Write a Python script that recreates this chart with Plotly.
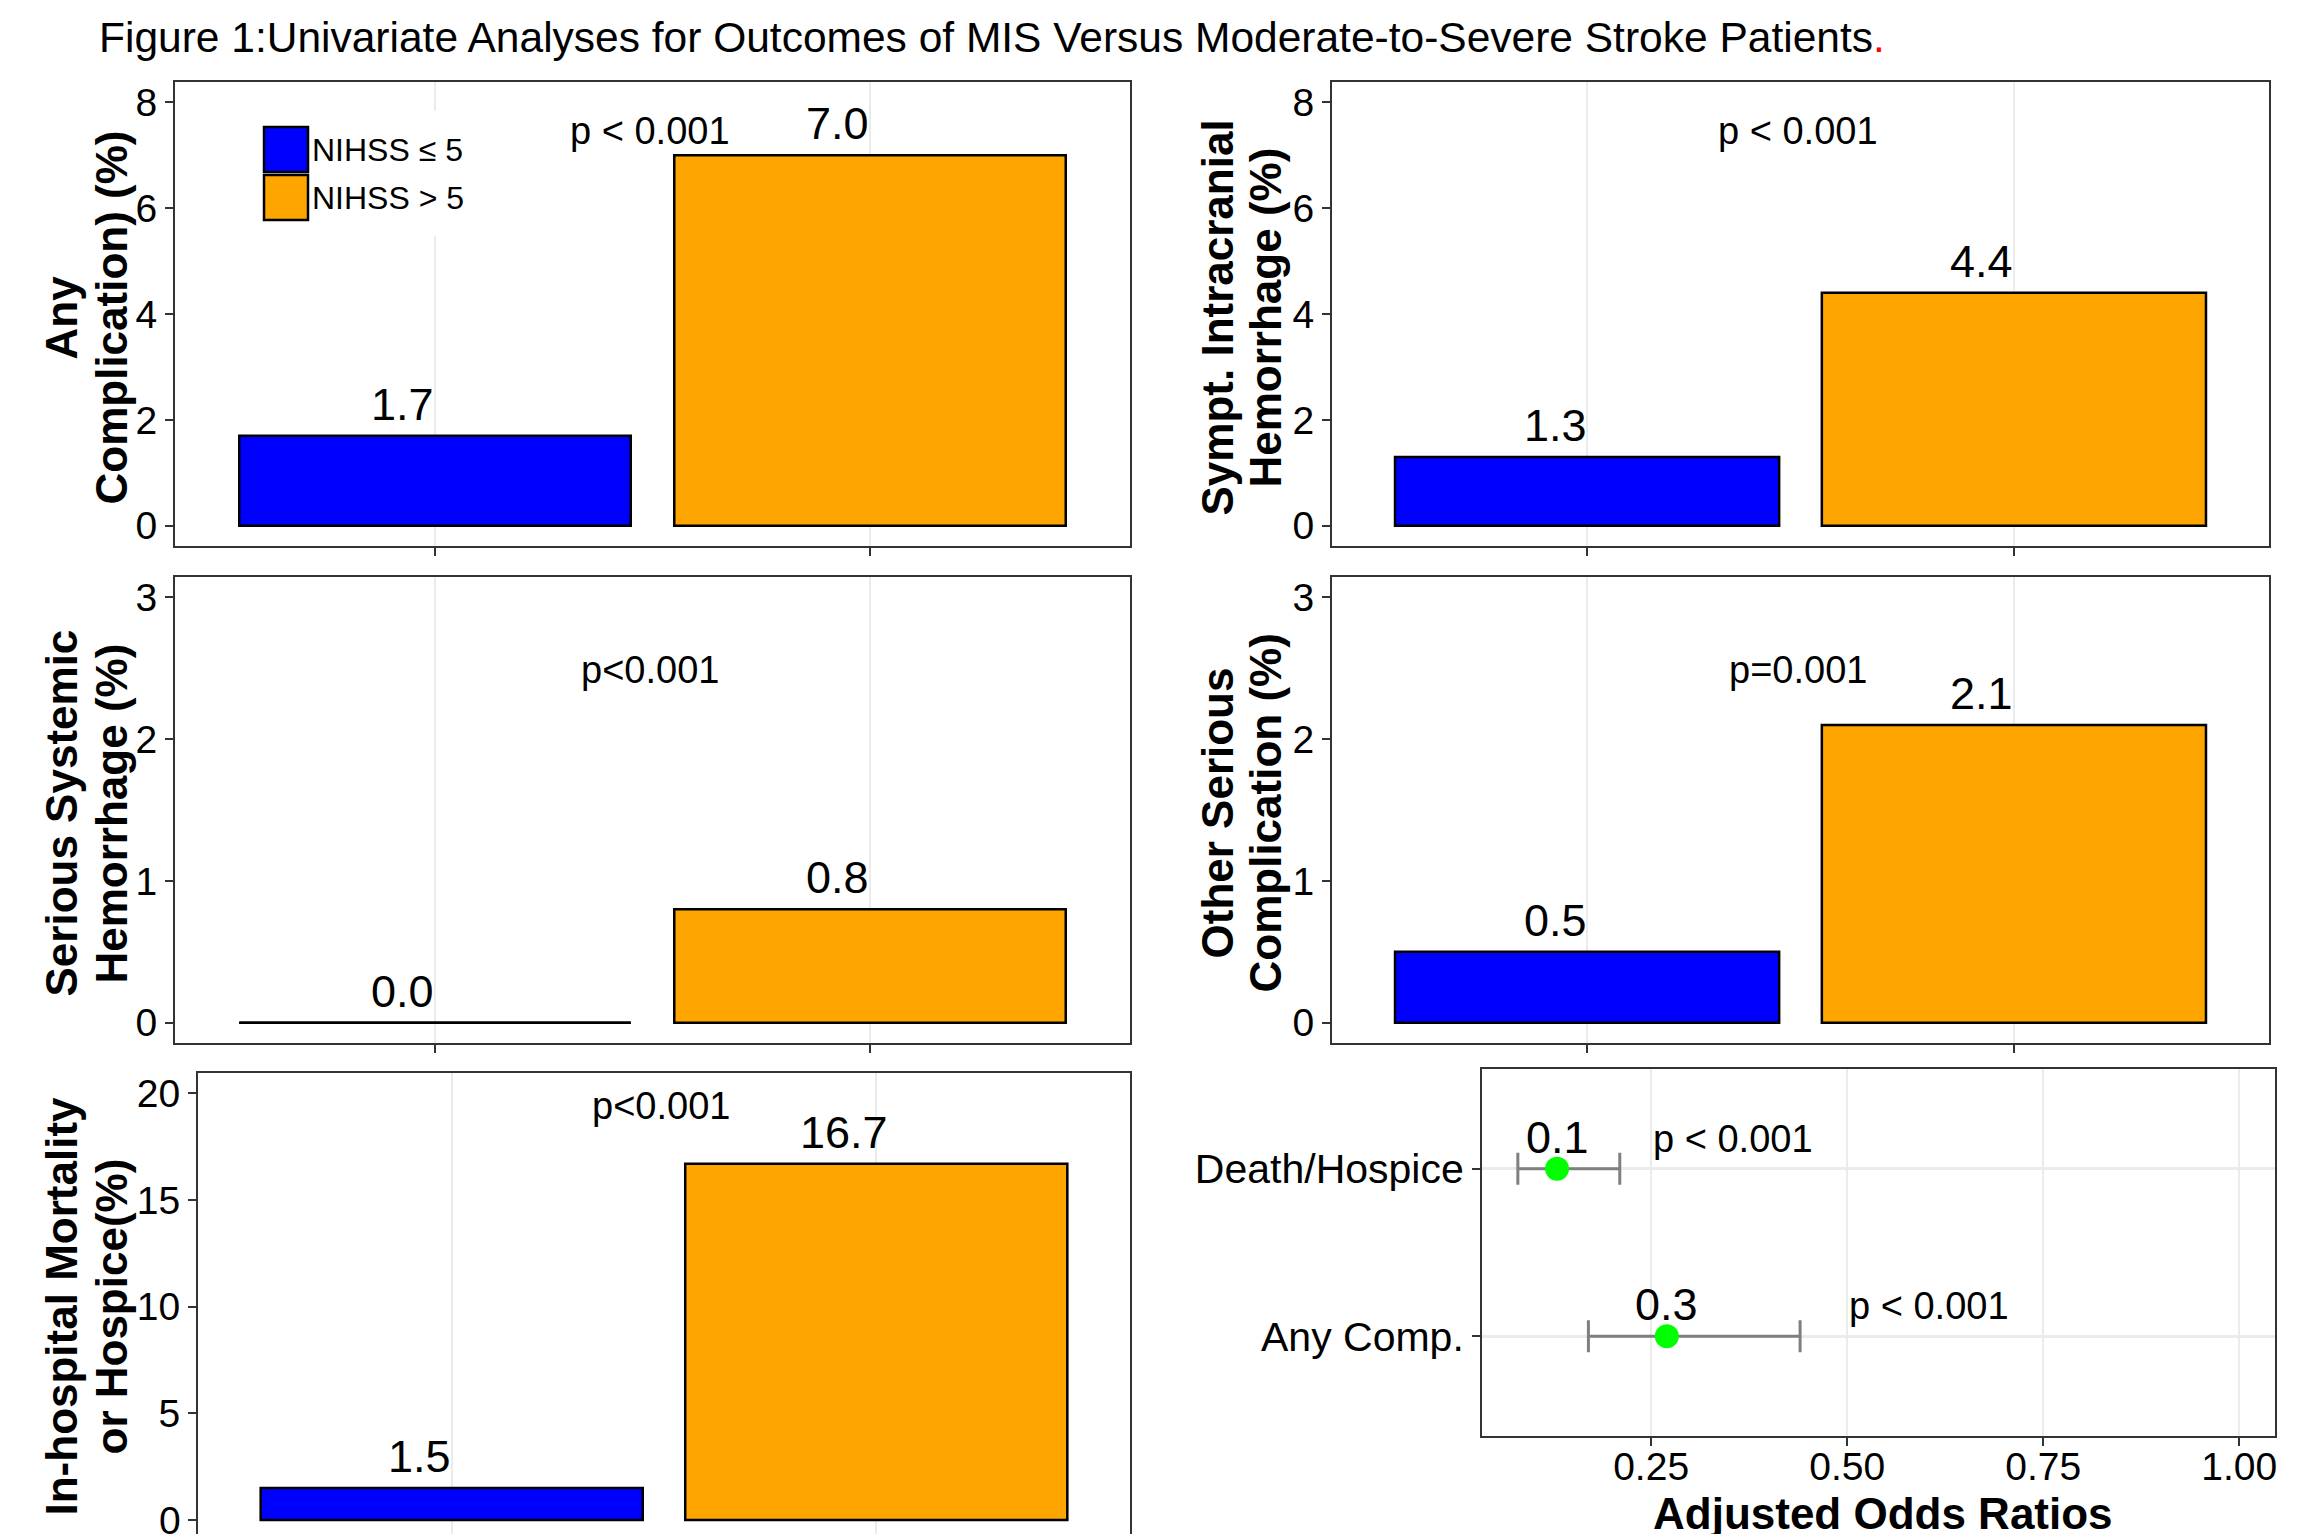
import plotly.graph_objects as go

# ---------------- data ----------------
groups = ["NIHSS ≤ 5", "NIHSS > 5"]
group_colors = ["#0000FF", "#FFA500"]

any_complication = [1.7, 7.0]
sympt_ich = [1.3, 4.4]
serious_systemic_hem = [0.0, 0.8]
other_serious_comp = [0.5, 2.1]
mortality_hospice = [1.5, 16.7]

p_any_complication = "p < 0.001"
p_sympt_ich = "p < 0.001"
p_serious_systemic = "p<0.001"
p_other_serious = "p=0.001"
p_mortality = "p<0.001"

or_labels = ["Death/Hospice", "Any Comp."]
or_values = [0.13, 0.27]
or_lower = [0.08, 0.17]
or_upper = [0.21, 0.44]
or_pvalues = ["p < 0.001", "p < 0.001"]
or_ticks = [0.25, 0.50, 0.75, 1.00]

# page offset (body margin) compensation
OFF = 8
W, H = 2311 - OFF, 1534 - OFF
FONT = "Liberation Sans, Arial, sans-serif"


def pxx(x):
    return (x - OFF) / W


def pxy(y):
    return 1 - (y - OFF) / H


def xd(x0, x1):
    return [pxx(x0), pxx(x1)]


def yd(y0, y1):
    return [max(0.0, pxy(y1)), min(1.0, pxy(y0))]


fig = go.Figure()

# panel geometry (screen pixels): x0, x1, y0, y1
panels = [
    dict(px=(174, 1131), py=(81, 547), vals=any_complication, p=p_any_complication,
         rng=[-0.4, 8.4], ticks=[0, 2, 4, 6, 8], p_y=7.45,
         title=["Any", "Complication) (%)"], tx=(61, 111)),
    dict(px=(1331, 2270), py=(81, 547), vals=sympt_ich, p=p_sympt_ich,
         rng=[-0.4, 8.4], ticks=[0, 2, 4, 6, 8], p_y=7.45,
         title=["Sympt. Intracranial", "Hemorrhage (%)"], tx=(1217, 1265)),
    dict(px=(174, 1131), py=(576, 1044), vals=serious_systemic_hem, p=p_serious_systemic,
         rng=[-0.15, 3.15], ticks=[0, 1, 2, 3], p_y=2.49,
         title=["Serious Systemic", "Hemorrhage (%)"], tx=(61, 111)),
    dict(px=(1331, 2270), py=(576, 1044), vals=other_serious_comp, p=p_other_serious,
         rng=[-0.15, 3.15], ticks=[0, 1, 2, 3], p_y=2.49,
         title=["Other Serious", "Complication (%)"], tx=(1217, 1265)),
    dict(px=(197, 1131), py=(1072, 1534), vals=mortality_hospice, p=p_mortality,
         rng=[-0.656, 21.0], ticks=[0, 5, 10, 15, 20], p_y=19.4,
         title=["In-hospital Mortality", "or Hospice(%)"], tx=(61, 111), cut=True),
]

layout = dict(
    width=W, height=H, margin=dict(l=0, r=0, t=0, b=0),
    paper_bgcolor="white", plot_bgcolor="white", showlegend=False,
    font=dict(family=FONT, color="black"),
)
shapes = []
annotations = []

for i, p in enumerate(panels):
    n = i + 1
    xa = "xaxis" if n == 1 else f"xaxis{n}"
    ya = "yaxis" if n == 1 else f"yaxis{n}"
    xr = "x" if n == 1 else f"x{n}"
    yr = "y" if n == 1 else f"y{n}"
    xpos = [k + 1 for k in range(len(groups))]
    fig.add_trace(go.Bar(
        x=xpos, y=p["vals"], width=0.9, xaxis=xr, yaxis=yr,
        marker=dict(color=group_colors, line=dict(color="black", width=2.5)),
        name="", hoverinfo="y",
    ))
    # zero-height bars drawn as outline line
    for k, v in enumerate(p["vals"]):
        if v == 0:
            shapes.append(dict(type="line", xref=xr, yref=yr, x0=xpos[k] - 0.45, x1=xpos[k] + 0.45,
                               y0=0, y1=0, line=dict(color="black", width=2.5), layer="above"))
    layout[xa] = dict(domain=xd(*p["px"]), range=[0.4, 2.6], anchor=yr,
                      tickvals=xpos, ticktext=["", ""],
                      ticks="" if p.get("cut") else "outside", ticklen=8, tickwidth=2, tickcolor="#333333",
                      showgrid=True, gridcolor="#EBEBEB", gridwidth=2, zeroline=False, showline=False)
    layout[ya] = dict(domain=yd(*p["py"]), range=p["rng"], anchor=xr,
                      tickvals=p["ticks"], ticks="outside", ticklen=8, tickwidth=2, tickcolor="#333333",
                      tickfont=dict(size=39, family=FONT, color="black"),
                      showgrid=False, zeroline=False, showline=False)
    # panel border
    y0b = 0
    if p.get("cut"):
        y0b = -(1541 - 1534) / (p["py"][1] - p["py"][0])
    shapes.append(dict(type="rect", xref=f"{xr} domain", yref=f"{yr} domain",
                       x0=0, x1=1, y0=y0b, y1=1, line=dict(color="#333333", width=2),
                       fillcolor="rgba(0,0,0,0)", layer="above"))
    # value labels
    for k, v in enumerate(p["vals"]):
        annotations.append(dict(x=xpos[k] - 0.075, y=v, xref=xr, yref=yr, text=f"{v:.1f}",
                                showarrow=False, yanchor="bottom", yshift=4,
                                font=dict(size=45, family=FONT, color="black")))
    # p value
    annotations.append(dict(x=1.494, y=p["p_y"], xref=xr, yref=yr, text=p["p"],
                            showarrow=False, yanchor="middle",
                            font=dict(size=38, family=FONT, color="black")))
    # y axis title (two lines)
    yc = pxy((p["py"][0] + min(p["py"][1] + 7, 1541)) / 2)
    for line_txt, xpx in zip(p["title"], p["tx"]):
        annotations.append(dict(x=pxx(xpx), y=yc, xref="paper", yref="paper", text=f"<b>{line_txt}</b>",
                                textangle=-90, showarrow=False, xanchor="center", yanchor="middle",
                                font=dict(size=44, family=FONT, color="black")))

# the "0" tick label of the cut-off bottom panel (plotly hides it at the page edge)
annotations.append(dict(x=-0.004, y=0, xref="x5 domain", yref="y5", text="0",
                        showarrow=False, xanchor="right", yanchor="middle", xshift=-10,
                        font=dict(size=39, family=FONT, color="black")))

# legend in first panel (drawn manually)
shapes.append(dict(type="rect", xref="paper", yref="paper", x0=pxx(250), x1=pxx(478),
                   y0=pxy(236), y1=pxy(111), line=dict(width=0), fillcolor="white", layer="above"))
for k, (g, c) in enumerate(zip(groups, group_colors)):
    top = 127 + k * 48
    shapes.append(dict(type="rect", xref="paper", yref="paper", x0=pxx(264), x1=pxx(308),
                       y0=pxy(top + 45), y1=pxy(top),
                       line=dict(color="black", width=2.5), fillcolor=c, layer="above"))
    annotations.append(dict(x=pxx(310), y=pxy(top + 23), xref="paper", yref="paper", text=g,
                            showarrow=False, xanchor="left", yanchor="middle",
                            font=dict(size=32, family=FONT, color="black")))

# ---------------- odds ratio panel ----------------
err_plus = [h - v for h, v in zip(or_upper, or_values)]
err_minus = [v - l for v, l in zip(or_values, or_lower)]
fig.add_trace(go.Scatter(
    x=or_values, y=or_labels, xaxis="x6", yaxis="y6", mode="markers",
    marker=dict(size=24, color="#00FF00"),
    error_x=dict(type="data", symmetric=False, array=err_plus, arrayminus=err_minus,
                 color="#7F7F7F", thickness=3, width=16),
    hoverinfo="x+y",
))
layout["xaxis6"] = dict(domain=xd(1481, 2276), range=[0.033, 1.047], anchor="y6",
                        tickvals=or_ticks, ticktext=[f"{t:.2f}" for t in or_ticks],
                        ticks="outside", ticklen=8, tickwidth=2, tickcolor="#333333",
                        tickfont=dict(size=39, family=FONT, color="black"),
                        ticklabelstandoff=-13,
                        showgrid=True, gridcolor="#EBEBEB", gridwidth=2, zeroline=False, showline=False)
layout["yaxis6"] = dict(domain=yd(1068, 1437), type="category",
                        categoryorder="array", categoryarray=or_labels[::-1],
                        range=[-0.6, 1.6], anchor="x6",
                        ticks="outside", ticklen=8, tickwidth=2, tickcolor="#333333",
                        tickfont=dict(size=41, family=FONT, color="black"),
                        showgrid=True, gridcolor="#EBEBEB", gridwidth=2.5, zeroline=False, showline=False)
shapes.append(dict(type="rect", xref="x6 domain", yref="y6 domain", x0=0, x1=1, y0=0, y1=1,
                   line=dict(color="#333333", width=2), fillcolor="rgba(0,0,0,0)", layer="above"))
shapes.append(dict(type="line", xref="x6", yref="y6 domain", x0=1.0, x1=1.0, y0=0, y1=1,
                   line=dict(color="#333333", width=1.5, dash="dash"), layer="below"))
annotations.append(dict(x=pxx(1883), y=pxy(1513), xref="paper", yref="paper",
                        text="<b>Adjusted Odds Ratios</b>", showarrow=False,
                        xanchor="center", yanchor="middle",
                        font=dict(size=44, family=FONT, color="black")))
p_left = [0.25, 0.50]
for k, lab in enumerate(or_labels):
    cat_idx = or_labels[::-1].index(lab)
    annotations.append(dict(x=or_values[k], y=cat_idx, xref="x6", yref="y6", text=f"{or_values[k]:.1f}",
                            showarrow=False, yanchor="bottom", yshift=4,
                            font=dict(size=45, family=FONT, color="black")))
    annotations.append(dict(x=p_left[k], y=cat_idx, xref="x6", yref="y6", text=or_pvalues[k],
                            showarrow=False, xanchor="left", yanchor="middle", yshift=30,
                            font=dict(size=38, family=FONT, color="black")))

# title
annotations.append(dict(
    x=pxx(97), y=pxy(37), xref="paper", yref="paper", xanchor="left", yanchor="middle",
    text="Figure 1:Univariate Analyses for Outcomes of MIS Versus Moderate-to-Severe Stroke Patients"
         "<span style='color:red'>.</span>",
    showarrow=False, font=dict(size=42.5, family=FONT, color="black")))

layout["shapes"] = shapes
layout["annotations"] = annotations
fig.update_layout(**layout)
fig.write_html("out.html")
